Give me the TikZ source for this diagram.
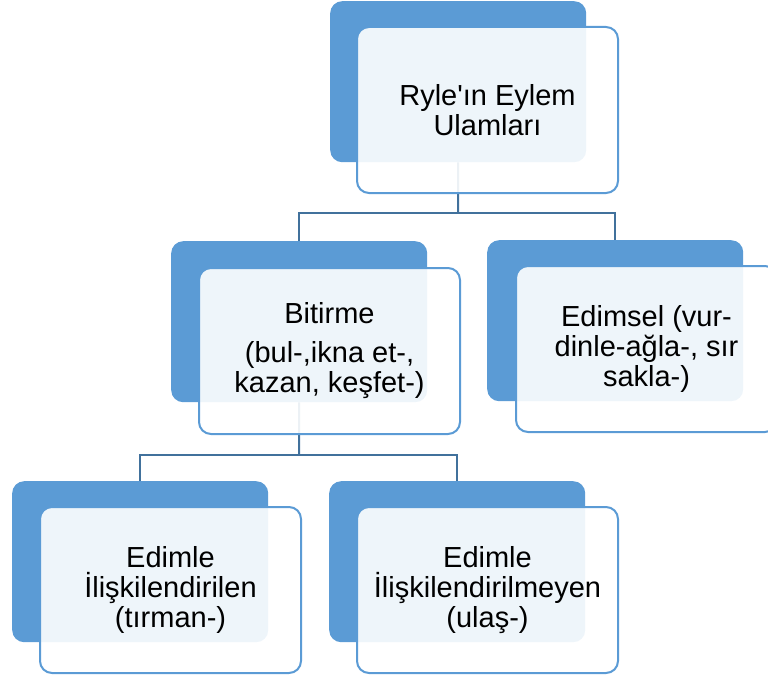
\documentclass[tikz,border=0pt]{standalone}
\usepackage{fontspec}
\setmainfont{Liberation Sans}[Ligatures=TeXOff]
\definecolor{accent}{HTML}{5B9BD5}
\definecolor{connc}{HTML}{41719C}
\begin{document}
\begin{tikzpicture}[x=1pt,y=-1pt,
  backbox/.style={fill=accent, rounded corners=12pt, minimum width=256pt, minimum height=161pt, anchor=north west, inner sep=0pt},
  frontbox/.style={fill=white, fill opacity=0.9, text opacity=1, draw=accent, line width=2pt, rounded corners=12pt, minimum width=261pt, minimum height=166pt, anchor=north west, align=center, inner sep=0pt, font=\fontsize{29}{30}\selectfont},
  conn/.style={draw=connc, line width=2pt}]
\useasboundingbox (0,0) rectangle (768,677);
\clip (0,0) rectangle (768,677);
% back boxes
\node[backbox] (rootB) at (330,1) {};
\node[backbox] (bitB) at (171,241) {};
\node[backbox] (edB) at (487,240) {};
\node[backbox] (e1B) at (12,481) {};
\node[backbox] (e2B) at (329,481) {};
% connectors
\coordinate (bus1) at (458,213);
\coordinate (bus2) at (299,455);
\draw[conn] (rootB.south) -- (bus1);
\draw[conn] (bitB.north) |- (bus1) -| (edB.north);
\draw[conn] (bitB.south) -- (bus2);
\draw[conn] (e1B.north) |- (bus2) -| (e2B.north);
% front boxes
\node[frontbox] (root) at (356,26) {Ryle'ın Eylem\\Ulamları};
\node[frontbox] (bit) at (198,267) {Bitirme\\[9pt]\fontsize{29}{26}\selectfont (bul-,ikna et-,\\kazan, keşfet-)};
\node[frontbox] (ed) at (515,265) {Edimsel (vur-\\dinle-ağla-, sır\\sakla-)};
\node[frontbox] (e1) at (39,506) {Edimle\\İlişkilendirilen\\(tırman-)};
\node[frontbox] (e2) at (356,506) {Edimle\\İlişkilendirilmeyen\\(ulaş-)};
\end{tikzpicture}
\end{document}
